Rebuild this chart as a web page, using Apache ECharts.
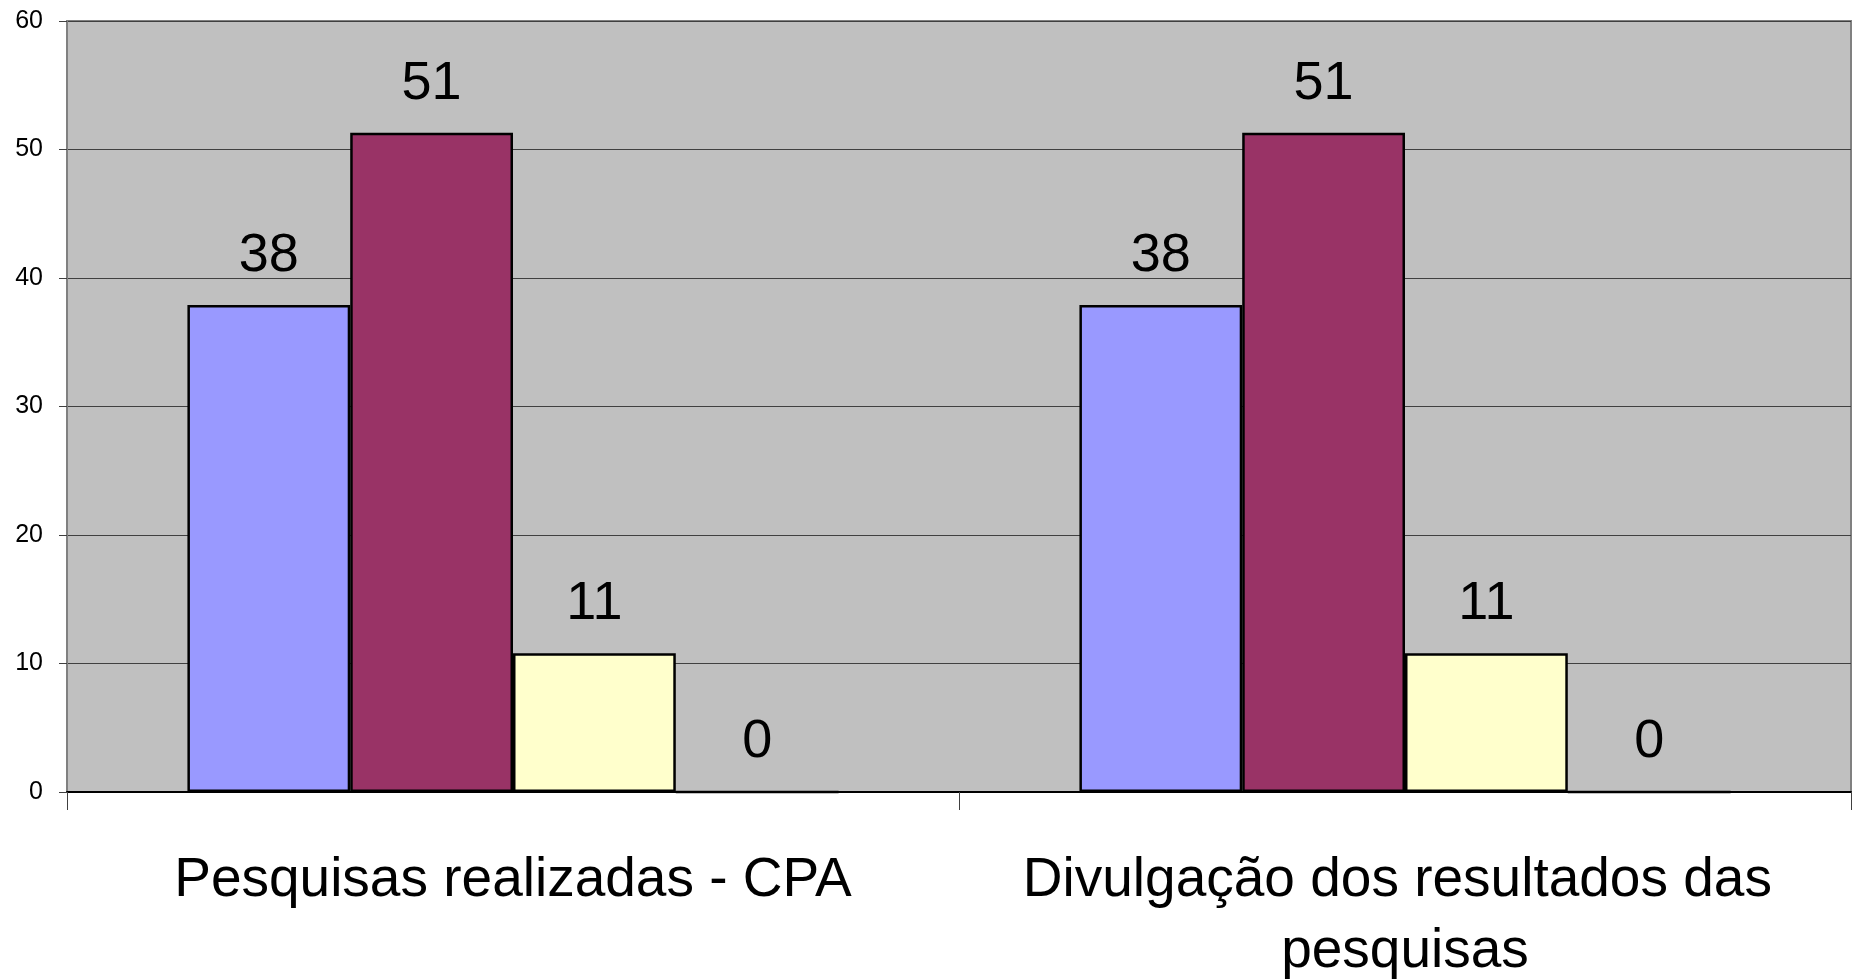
<!DOCTYPE html>
<html>
<head>
<meta charset="utf-8">
<script src="https://cdn.jsdelivr.net/npm/echarts@6/dist/echarts.min.js"></script>
<style>
    body { margin: 0; background: #fff; }
    #main { width: 1852px; height: 980px; }
</style>
</head>
<body>
<div id="main"></div>
<script>
// 数据
const categories = ['Pesquisas realizadas - CPA', 'Divulgação dos resultados das pesquisas'];
const serie1 = [37.9, 37.9];
const serie2 = [51.3, 51.3];
const serie3 = [10.8, 10.8];
const serie4 = [0, 0];
const yTicks = [0, 10, 20, 30, 40, 50, 60];

const colors = ['#9999FF', '#993366', '#FFFFCC', '#CCFFFF'];
const font = "'Liberation Sans', Arial, sans-serif";

function makeSeries(data, color) {
    return {
        type: 'bar',
        data: data,
        barGap: '0%',
        barCategoryGap: '27%',
        itemStyle: {
            color: color,
            borderColor: '#000',
            borderWidth: 2.5
        },
        label: {
            show: true,
            position: 'top',
            distance: 22,
            color: '#000',
            fontFamily: font,
            fontSize: 54,
            lineHeight: 54,
            // 标签显示取整后的百分比
            formatter: p => Math.round(p.value)
        }
    };
}

const chart = echarts.init(document.getElementById('main'));

const option = {
    animation: false,
    grid: {
        left: 67,
        right: 1,
        top: 21,
        bottom: 188,
        outerBoundsMode: 'none',
        containLabel: false,
        show: true,
        backgroundColor: '#C0C0C0',
        borderColor: '#808080',
        borderWidth: 2
    },
    xAxis: {
        type: 'category',
        data: categories,
        axisLine: { lineStyle: { color: '#000', width: 2 } },
        axisTick: {
            show: true,
            length: 18,
            interval: 0,
            lineStyle: { color: '#404040', width: 1 }
        },
        axisLabel: {
            interval: 0,
            margin: 53,
            color: '#000',
            fontFamily: font,
            fontSize: 55,
            lineHeight: 71,
            width: 860,
            overflow: 'break'
        }
    },
    yAxis: {
        type: 'value',
        min: yTicks[0],
        max: yTicks[yTicks.length - 1],
        interval: 10,
        axisLine: { show: true, lineStyle: { color: '#808080', width: 2 } },
        axisTick: {
            show: true,
            length: 8,
            lineStyle: { color: '#404040', width: 1 }
        },
        axisLabel: {
            margin: 24,
            color: '#000',
            fontFamily: font,
            fontSize: 25
        },
        splitLine: { lineStyle: { color: '#404040', width: 1 } }
    },
    series: [
        makeSeries(serie1, colors[0]),
        makeSeries(serie2, colors[1]),
        makeSeries(serie3, colors[2]),
        makeSeries(serie4, colors[3])
    ]
};

chart.setOption(option);
</script>
</body>
</html>
